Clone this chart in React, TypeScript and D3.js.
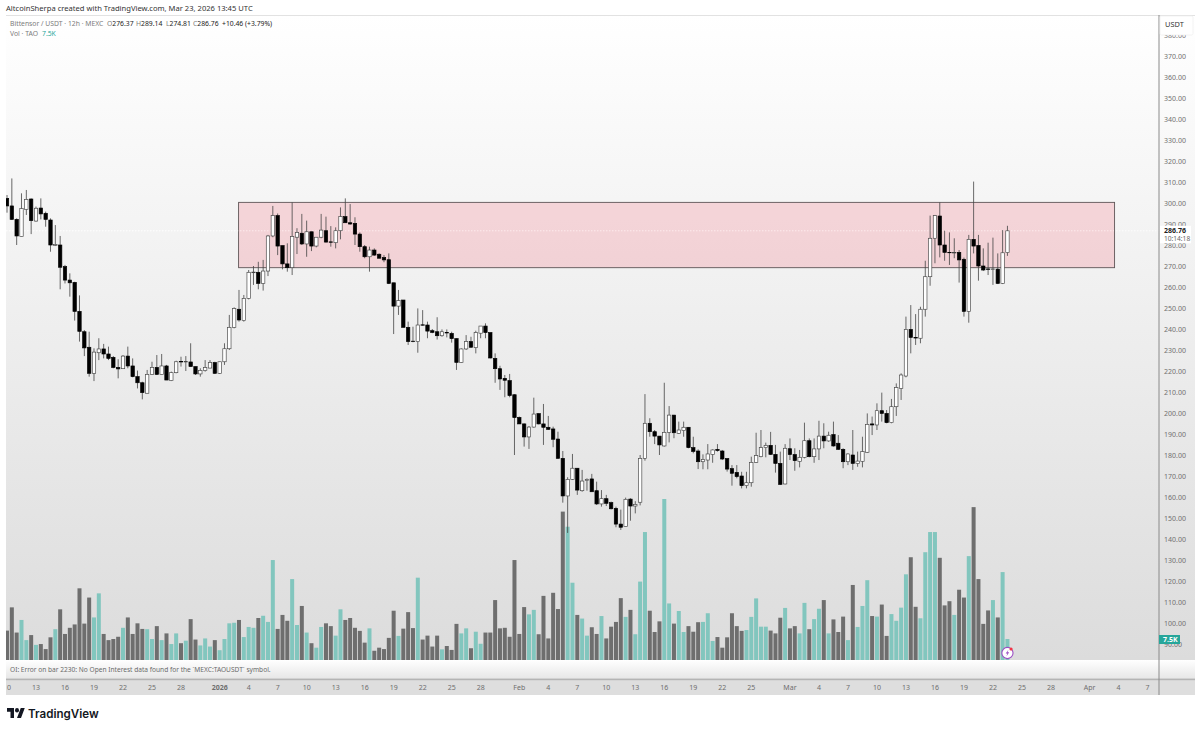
// App.tsx - TAO/USDT 12h candles with volume, redrawn with d3 scales
import * as d3 from 'd3';

const opens = [
  302.2, 298.6, 292.2, 284, 297, 301.9, 291.4, 297.6, 295.1, 291.9,
  279.8, 280, 269.7, 263.3, 262.2, 248.4, 238.7, 231.3, 218.9, 228.7,
  230.5, 228.1, 226.5, 221.7, 221.1, 227.1, 222.4, 217.3, 214.4, 209.4,
  218.3, 221.7, 218.4, 222.4, 215.4, 219.2, 224.6, 224.3, 224.3, 222.1,
  218.6, 220.2, 221.4, 224, 218.9, 224.4, 230.6, 240.8, 249.4, 244,
  254.6, 266.8, 267, 261.7, 267.6, 284.3, 294, 279.7, 271, 269.2,
  283.7, 285.6, 280.5, 286.3, 279.5, 283.7, 286.8, 281.5, 281.1, 286.8,
  293.5, 290.6, 290.3, 285.2, 279.2, 274.4, 277.6, 275.6, 274, 273,
  262, 250.9, 253.8, 240.8, 234.2, 234, 242, 241.9, 239.2, 238.7,
  236.8, 238.4, 237.9, 235.4, 224.1, 230.5, 234, 231.1, 238, 241.4,
  238.3, 226, 221.1, 216.5, 215.4, 208.7, 197.9, 194.8, 188.6, 193.3,
  199.7, 194.8, 193.2, 192.4, 187.6, 178.4, 160.5, 168.4, 173.7, 163,
  167.8, 168.6, 163, 156.7, 159.2, 157.3, 154.6, 147.1, 145.9, 159,
  155.7, 157.5, 178.4, 195.1, 191.1, 189, 184.3, 190.8, 199, 190.3,
  191.6, 193.2, 183.5, 181.9, 176.8, 177.6, 180.3, 182.7, 181.9, 178.3,
  173.5, 171.7, 170, 165.4, 166.8, 176.5, 179.2, 183.5, 184.6, 180.3,
  176, 166.2, 183, 180.2, 177, 178.9, 186.8, 179.2, 182.9, 189,
  186.7, 189.7, 185.6, 182.7, 176.8, 180, 176, 177, 181.3, 194.8,
  194.3, 201.1, 199.8, 195.4, 203, 211.7, 217.6, 239.8, 235.9, 235.6,
  249.4, 264.9, 283.2, 293.8, 280, 276.5, 276.2, 276.5, 273.2, 248.4,
  282.7, 279.8, 270, 268.6, 268.4, 268.5, 261.7, 276.37,
];
const highs = [
  303.8, 311.7, 292.7, 304.6, 306.2, 302.2, 298.3, 302.2, 295.9, 292.7,
  289.5, 284.3, 270.5, 266.5, 262.5, 256, 239.5, 238.7, 230.8, 235.6,
  232.9, 231.6, 227.1, 225.6, 227.6, 231.6, 226, 220.2, 214.9, 220.5,
  224.4, 227.6, 228.1, 222.9, 219.7, 224.9, 226.8, 227.1, 233.2, 222.1,
  221.3, 225.2, 225.2, 224.4, 224.4, 233.2, 246.7, 250.3, 258.6, 256.2,
  268.1, 270, 272, 272.9, 284.8, 298.6, 295, 279.7, 280.8, 300.3,
  288, 294.8, 291.6, 286.3, 283.7, 294.8, 293.5, 289, 288.4, 297.9,
  302.2, 299.5, 293.2, 286, 280, 279.2, 278.4, 276, 275.2, 276,
  262, 258.6, 253.8, 243.5, 241.1, 249.8, 249, 243.5, 240, 245.6,
  239.8, 239.8, 238.7, 235.6, 230.8, 237.1, 236.3, 239.2, 241.4, 242.7,
  238.3, 228.4, 222.5, 218.1, 218.6, 208.9, 198.3, 195.1, 193.8, 207.3,
  199.8, 204.3, 198.6, 193.5, 191.1, 181.9, 169.4, 180.5, 173.7, 172.9,
  168.9, 171, 167.3, 163.3, 161, 157.8, 155.4, 154, 159.7, 159.4,
  158, 180, 209, 197.5, 191.9, 189, 214.4, 203.3, 199, 195.9,
  195.9, 193.2, 188.7, 182.7, 180.3, 185.2, 182.7, 185.2, 182.4, 178.4,
  175.2, 175.2, 172, 172, 179.2, 190.6, 191.9, 185.9, 191, 184.8,
  181.6, 185.2, 187.9, 183.2, 182.4, 195.4, 187.9, 187.9, 196.3, 195.1,
  191.1, 195.9, 189.5, 183.2, 180.8, 191.9, 181.6, 188.7, 199.8, 198.3,
  204.6, 209.7, 201.4, 206.7, 214.1, 218.9, 245.9, 251.4, 247.1, 250.6,
  272.5, 294, 294.3, 300.3, 286.8, 286, 283.2, 277.6, 274, 284.8,
  310.2, 284.8, 278.4, 281.1, 283.5, 276, 287.1, 289.14,
];
const lows = [
  295.4, 291.9, 280, 284, 294.3, 285.2, 291.1, 292.2, 288.7, 276.8,
  279.5, 258.9, 261.7, 255.4, 244, 234, 227.1, 217.3, 215.2, 225.2,
  226, 225.2, 221.3, 216.5, 221, 221.3, 217, 211.7, 206.5, 209.4,
  218.1, 218.1, 218.4, 215.7, 215.2, 218.9, 222.1, 220, 222.1, 218.1,
  217.3, 219.7, 221.3, 218.6, 218.6, 222.9, 230, 240.3, 243.5, 243.5,
  254.1, 261, 258.9, 258.3, 265.2, 283.7, 275.2, 268.4, 267.3, 265.7,
  275.7, 280, 274.4, 277.1, 278.9, 283.2, 281.1, 279.2, 278.4, 282.7,
  290.6, 289.6, 280, 276.8, 273.7, 267.3, 274.8, 273.7, 271.8, 261.4,
  237.6, 246.7, 240.8, 232.4, 233.7, 228.7, 241.6, 235.6, 238, 235,
  236.3, 236, 233.5, 220.5, 224, 230, 231.3, 228.4, 235.6, 235.6,
  226, 214.4, 211, 207.5, 207.5, 180, 194.8, 184, 182.9, 193,
  194.6, 184.8, 191.9, 183.7, 178.4, 157.3, 142.9, 168.1, 161, 162.5,
  163, 162.5, 156.2, 155.4, 155.7, 154.1, 145.6, 144.3, 145.9, 148.7,
  152.2, 156, 177.3, 188.7, 185.2, 180, 184, 186, 188, 190,
  188.7, 183.2, 180.8, 173.3, 173.2, 173.2, 176.3, 181.6, 177.6, 172.1,
  165.4, 168.9, 164.1, 164.1, 164.9, 176.3, 178.9, 178.9, 180, 171.6,
  165.7, 166, 177.6, 172.5, 174.1, 178.4, 178.9, 176.3, 177.6, 183.2,
  186.3, 184, 182.4, 173.7, 175.2, 172.9, 174.4, 174.1, 181, 189.5,
  191.9, 195.9, 195.1, 195.1, 198.6, 206.2, 217, 228.4, 232.4, 233.2,
  245.9, 260.6, 271.3, 274.1, 272.5, 270.5, 273.7, 262.1, 245.9, 243,
  276, 263, 267.6, 265.7, 261, 261.4, 261.4, 274.81,
];
const closes = [
  298.6, 292.2, 284.3, 297.3, 301.7, 291.6, 297.5, 294.8, 292.2, 280,
  280.2, 269.4, 263.3, 262, 248.4, 238.9, 231, 218.9, 229, 230.5,
  228.1, 226, 221.7, 221, 227.1, 222.4, 217.3, 214.4, 209.7, 218.4,
  221.7, 218.4, 222.4, 215.7, 219.2, 224.4, 224.3, 224.6, 222.1, 218.6,
  220.3, 221.6, 224, 218.9, 224.4, 230.6, 240.8, 249.7, 244.3, 254.6,
  267, 267.1, 261.7, 267.6, 284.3, 294, 279.5, 271, 269.2, 284,
  286, 280.5, 286.3, 279.5, 283.7, 287.1, 281.4, 281.3, 286.8, 293.5,
  290.6, 290, 285.2, 279.2, 274.4, 277.6, 275.2, 273.7, 272.9, 261.7,
  250.9, 253.5, 240.8, 234, 234, 241.9, 241.9, 239, 238.4, 236.8,
  238.7, 238.1, 235.4, 224.1, 230.5, 234, 231.3, 238.3, 241.4, 238.3,
  226.2, 221.1, 216.2, 215.6, 208.3, 197.8, 194.8, 188.6, 193.3, 199.5,
  194.8, 193.2, 192.2, 187.5, 178.4, 160.5, 168.4, 173.7, 163.3, 167.6,
  168.4, 162.5, 156.7, 159.2, 157, 154.4, 147.1, 145.6, 158.9, 155.7,
  156.5, 178.4, 195.1, 191.1, 189, 184.8, 190.8, 199, 190.6, 191.9,
  193.2, 183.5, 181.7, 176.8, 177.9, 180.5, 182.4, 182.1, 178.1, 173.3,
  171.3, 169.7, 165.4, 166.8, 176.5, 179.7, 183.5, 184.6, 180.3, 176,
  166, 183.2, 180.2, 177.3, 178.9, 186.8, 179.2, 182.9, 189, 186.7,
  189.4, 184.3, 182.7, 176.8, 180.5, 176, 177.1, 181.6, 194.6, 194.3,
  201.1, 199.8, 195.4, 203, 212.1, 218.1, 239.8, 236, 235.7, 249.4,
  264.9, 283.2, 294, 280, 276.5, 276.3, 276.4, 272.9, 248.4, 282.7,
  279.5, 270, 268.1, 268.4, 268.6, 261.7, 276.3, 286.76,
];
// thousands of TAO
const volumes = [
  10.5, 18.8, 9.8, 14.3, 7.1, 8.9, 5.4, 5.7, 3.9, 8.1,
  11, 18.1, 9.3, 11.5, 12.7, 25.6, 13, 22.3, 15.2, 23.8,
  9.3, 7.1, 7.5, 8.3, 11.5, 15.2, 9.3, 13.1, 11.1, 11,
  7.5, 12.1, 7.1, 9.5, 5.7, 9.5, 6, 6.9, 14.6, 7.3,
  5.2, 7.7, 4.8, 7.1, 3.5, 7.5, 13.1, 13.3, 14.3, 8.2,
  11.8, 11.5, 15, 15.8, 13.6, 35.7, 11.1, 16.1, 14, 28.9,
  12.5, 19.3, 9.8, 6, 4.4, 11.8, 13.1, 12.1, 8.7, 18.1,
  14.3, 15, 11.5, 10.4, 6.2, 11.3, 3.3, 4.4, 3.9, 7.9,
  17.6, 8.6, 11.2, 17.1, 11.4, 29.4, 7.3, 8.7, 4.8, 8.7,
  3.8, 5, 3.6, 12.9, 9.5, 11.3, 4.2, 10.1, 5.8, 9.8,
  9.8, 21.4, 11.3, 11.5, 8.3, 35.7, 9.3, 18.9, 16.3, 17.9,
  9.2, 22.9, 7.7, 24, 18.2, 53, 47.6, 27.6, 16.1, 14.8,
  8.7, 11.7, 9.3, 15.7, 7.7, 11.9, 13.6, 22.1, 15.4, 17.9,
  9.2, 28, 45.7, 17.6, 10, 13.8, 57.5, 20.2, 13, 17.5,
  10, 12.1, 10.1, 13.5, 13.6, 16.7, 6.8, 8.2, 4.4, 8.1,
  16.7, 12.1, 10.4, 10.7, 15.4, 22, 11.9, 11.9, 10.5, 9.5,
  15.1, 18.6, 11.3, 12.1, 9.5, 20.4, 11, 14.6, 18.3, 21.4,
  9.5, 14.5, 10, 15.5, 7.1, 26.8, 11.8, 19.3, 28.5, 15.7,
  15.5, 19.8, 8.6, 16.4, 14, 18.7, 30.6, 36.7, 19, 14.9,
  38.5, 45.7, 45.7, 36.5, 19.5, 21, 16.1, 25.1, 22.3, 37.1,
  54.6, 28.9, 12.9, 17.7, 21.4, 15.2, 31.4, 7.5,
];

const priceTicks = d3.range(90, 381, 10);
const timeTicks: [number, string][] = [
  [Date.UTC(2025, 11, 10), '10'], [Date.UTC(2025, 11, 13), '13'], [Date.UTC(2025, 11, 16), '16'],
  [Date.UTC(2025, 11, 19), '19'], [Date.UTC(2025, 11, 22), '22'], [Date.UTC(2025, 11, 25), '25'],
  [Date.UTC(2025, 11, 28), '28'], [Date.UTC(2026, 0, 1), '2026'], [Date.UTC(2026, 0, 4), '4'],
  [Date.UTC(2026, 0, 7), '7'], [Date.UTC(2026, 0, 10), '10'], [Date.UTC(2026, 0, 13), '13'],
  [Date.UTC(2026, 0, 16), '16'], [Date.UTC(2026, 0, 19), '19'], [Date.UTC(2026, 0, 22), '22'],
  [Date.UTC(2026, 0, 25), '25'], [Date.UTC(2026, 0, 28), '28'], [Date.UTC(2026, 1, 1), 'Feb'],
  [Date.UTC(2026, 1, 4), '4'], [Date.UTC(2026, 1, 7), '7'], [Date.UTC(2026, 1, 10), '10'],
  [Date.UTC(2026, 1, 13), '13'], [Date.UTC(2026, 1, 16), '16'], [Date.UTC(2026, 1, 19), '19'],
  [Date.UTC(2026, 1, 22), '22'], [Date.UTC(2026, 1, 25), '25'], [Date.UTC(2026, 2, 1), 'Mar'],
  [Date.UTC(2026, 2, 4), '4'], [Date.UTC(2026, 2, 7), '7'], [Date.UTC(2026, 2, 10), '10'],
  [Date.UTC(2026, 2, 13), '13'], [Date.UTC(2026, 2, 16), '16'], [Date.UTC(2026, 2, 19), '19'],
  [Date.UTC(2026, 2, 22), '22'], [Date.UTC(2026, 2, 25), '25'], [Date.UTC(2026, 2, 28), '28'],
  [Date.UTC(2026, 3, 1), 'Apr'], [Date.UTC(2026, 3, 4), '4'], [Date.UTC(2026, 3, 7), '7'],
];

// resistance box drawn on the chart
const zonePrices = [269.2, 300.3];
const zoneTimes = [Date.UTC(2026, 0, 2, 23), Date.UTC(2026, 3, 3, 14)];
const lastPrice = 286.76;
const lastVolume = 7.5;

const BAR_MS = 12 * 3600 * 1000;
const firstBar = Date.UTC(2025, 11, 10);
const font = '"Noto Sans", sans-serif';

const x = d3.scaleUtc().domain([firstBar, Date.UTC(2026, 3, 7)]).range([7, 1147.6]);
const y = d3.scaleLinear().domain([90, 380]).range([644, 35]);
const yVol = d3.scaleLinear().domain([0, 57.5]).range([660, 499]);
const barX = (i: number) => x(firstBar + i * BAR_MS);

const UP_VOL = '#82c6be';
const DOWN_VOL = '#6e6e6e';

export default function App() {
  return (
    <svg
      width={1200}
      height={730}
      style={{ position: 'absolute', left: 0, top: 0, background: '#fff', fontFamily: font }}
    >
      <defs>
        <linearGradient id="bg" x1="0" y1="0" x2="0" y2="1">
          <stop offset="0" stopColor="#ffffff" />
          <stop offset="1" stopColor="#dcdcdc" />
        </linearGradient>
        <linearGradient id="oi" x1="0" y1="0" x2="0" y2="1">
          <stop offset="0" stopColor="#ffffff" />
          <stop offset="1" stopColor="#e6e6e6" />
        </linearGradient>
        <clipPath id="plot">
          <rect x={6} y={15} width={1153} height={645} />
        </clipPath>
        <clipPath id="timeAxis">
          <rect x={6} y={680} width={1153} height={15} />
        </clipPath>
      </defs>

      <text x={6} y={11} fontSize={7.6} fill="#333">
        AltcoinSherpa created with TradingView.com, Mar 23, 2026 13:45 UTC
      </text>

      <rect x={6} y={15} width={1189} height={645} fill="url(#bg)" />
      <rect x={6} y={660} width={1189} height={19} fill="url(#oi)" />
      <rect x={6} y={680} width={1189} height={15} fill="#dedede" />
      <rect x={6} y={678.6} width={1189} height={1.6} fill="#b4b4b4" />
      <line x1={6} x2={1195} y1={15.5} y2={15.5} stroke="#e2e2e2" />

      <g clipPath="url(#plot)">
        <line x1={6} x2={1159} y1={y(lastPrice)} y2={y(lastPrice)} stroke="#ffffff" strokeWidth={0.8} strokeDasharray="1.5 1.5" />

        {volumes.map((v, i) => (
          <rect
            key={i}
            x={barX(i) - 2}
            y={yVol(v)}
            width={4}
            height={yVol(0) - yVol(v)}
            fill={closes[i] >= opens[i] ? UP_VOL : DOWN_VOL}
          />
        ))}

        <rect
          x={x(zoneTimes[0])}
          y={y(zonePrices[1])}
          width={x(zoneTimes[1]) - x(zoneTimes[0])}
          height={y(zonePrices[0]) - y(zonePrices[1])}
          fill="#f2384c"
          fillOpacity={0.17}
          stroke="#5f5557"
          strokeWidth={0.9}
        />
        <line x1={6} x2={1114} y1={y(lastPrice)} y2={y(lastPrice)} stroke="#ffffff" strokeOpacity={0.7} strokeWidth={0.6} strokeDasharray="1.5 1.5" />

        {opens.map((o, i) => {
          const c = closes[i];
          const up = c >= o;
          const top = y(Math.max(o, c));
          const bottom = y(Math.min(o, c));
          return (
            <g key={i}>
              <line x1={barX(i)} x2={barX(i)} y1={y(highs[i])} y2={y(lows[i])} stroke="#444444" strokeWidth={0.8} />
              <rect
                x={barX(i) - 1.7}
                y={top}
                width={3.4}
                height={Math.max(bottom - top, 0.4)}
                fill={up ? '#ffffff' : '#000000'}
                stroke={up ? '#444444' : '#000000'}
                strokeWidth={0.65}
              />
            </g>
          );
        })}
      </g>

      {/* flash marker on the last bar */}
      <g transform={`translate(${barX(207)},653)`}>
        <circle r={5.6} fill="#ffffff" stroke="#9c4fc4" strokeWidth={1.1} />
        <path d="M1 -3.2 L-1.8 0.6 L-0.1 0.6 L-1 3.2 L1.8 -0.7 L0.1 -0.7 Z" fill="#9c4fc4" />
        <circle cx={3.6} cy={-4} r={1.6} fill="#f23645" />
      </g>

      {/* price axis */}
      <line x1={1159} x2={1159} y1={15} y2={695} stroke="#8a8a8a" strokeWidth={1} />
      {priceTicks.map(p => (
        <text key={p} x={1164} y={y(p) + 2.5} fontSize={7} fill="#707070">
          {d3.format('.2f')(p)}
        </text>
      ))}
      <rect x={1160} y={16} width={33} height={19} fill="#ffffff" stroke="#eeeeee" strokeWidth={0.7} rx={1.5} />
      <text x={1165} y={27} fontSize={7.4} fill="#333">USDT</text>

      <rect x={1160} y={y(lastPrice) - 5} width={31} height={17.5} fill="#ffffff" />
      <text x={1164} y={y(lastPrice) + 2.5} fontSize={7} fontWeight={700} fill="#222">286.76</text>
      <text x={1164} y={y(lastPrice) + 10.5} fontSize={6.6} fill="#666">10:14:18</text>

      <rect x={1159} y={yVol(lastVolume) - 4} width={21} height={9} fill="#26a69a" />
      <text x={1163} y={yVol(lastVolume) + 3} fontSize={7} fontWeight={700} fill="#ffffff">7.5K</text>

      {/* time axis */}
      <g clipPath="url(#timeAxis)">
        {timeTicks.map(([t, label], i) => (
          <text
            key={i}
            x={x(t)}
            y={690}
            fontSize={7}
            textAnchor="middle"
            fontWeight={label === '2026' ? 700 : 400}
            fill="#6e6e6e"
          >
            {label}
          </text>
        ))}
      </g>

      {/* legend */}
      <text x={10} y={26} fontSize={6.8} fill="#7c7c7c">
        Bittensor / USDT · 12h · MEXC
        <tspan x={107}>O</tspan><tspan fill="#222">276.37</tspan>
        <tspan x={136}>H</tspan><tspan fill="#222">289.14</tspan>
        <tspan x={166}>L</tspan><tspan fill="#222">274.81</tspan>
        <tspan x={193}>C</tspan><tspan fill="#222">286.76</tspan>
        <tspan x={222} fill="#222">+10.46 (+3.79%)</tspan>
      </text>
      <text x={10} y={35.5} fontSize={6.8} fill="#7c7c7c">
        Vol · TAO<tspan x={42} fill="#26a69a">7.5K</tspan>
      </text>

      <text x={10} y={671.5} fontSize={6.6} fill="#6a6a6a">
        OI: Error on bar 2230: No Open Interest data found for the `MEXC:TAOUSDT` symbol.
      </text>

      {/* TradingView mark */}
      <g transform="translate(7,705.8) scale(0.5,0.55)" fill="#131722">
        <path d="M14 22H7V11H0V4h14v18zM28 22h-8l7.5-18h8L28 22z" />
        <circle cx={20} cy={8} r={4} />
      </g>
      <text x={28} y={717.5} fontSize={11.6} fontWeight={600} fontFamily="Inter, sans-serif" fill="#131722">
        TradingView
      </text>
    </svg>
  );
}
